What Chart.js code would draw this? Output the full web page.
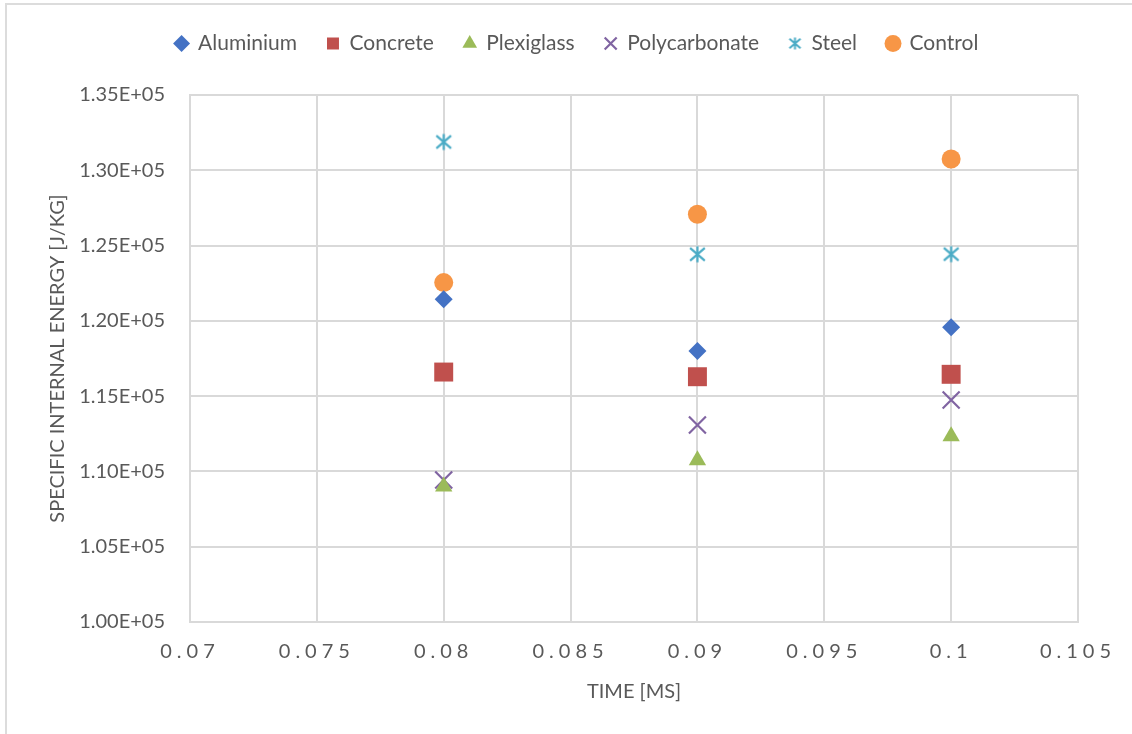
<!DOCTYPE html>
<html>
<head>
<meta charset="utf-8">
<script src="https://cdn.jsdelivr.net/npm/chart.js@4/dist/chart.umd.min.js"></script>
<style>
  html, body { margin: 0; padding: 0; background: #fff; }
  #frame { position: absolute; left: 5px; top: 3px; width: 1140px; height: 740px;
           border-left: 2px solid #dcdcdc; border-top: 2px solid #dcdcdc; }
  #wrap { position: absolute; left: 0; top: 0; width: 1132px; height: 734px; }
</style>
</head>
<body>
<div id="frame"></div>
<div id="wrap"><canvas id="chart"></canvas></div>
<script>
var times = [0.08, 0.09, 0.1];
var aluminium = [121430, 118000, 119570];
var concrete = [116600, 116290, 116450];
var plexiglass = [109000, 110740, 112330];
var polycarbonate = [109430, 113080, 114740];
var steel = [131880, 124420, 124430];
var control = [122540, 127080, 130750];

var xTicks = [0.07, 0.075, 0.08, 0.085, 0.09, 0.095, 0.1, 0.105];
var yTicks = ["1.00E+05", "1.05E+05", "1.10E+05", "1.15E+05", "1.20E+05", "1.25E+05", "1.30E+05", "1.35E+05"];

var textColor = "#595959";
var gridColor = "#d9d9d9";

// asterisk marker like the spreadsheet "star"
function makeStar(size, color, lw) {
    var c = document.createElement("canvas");
    c.width = size; c.height = size;
    var g = c.getContext("2d");
    var h = size / 2, r = size / 2 - 1.5;
    g.strokeStyle = color;
    g.lineWidth = lw;
    g.lineCap = "butt";
    g.beginPath();
    g.moveTo(h, h - r); g.lineTo(h, h + r);
    g.moveTo(h - r * 0.92, h - r * 0.8); g.lineTo(h + r * 0.92, h + r * 0.8);
    g.moveTo(h - r * 0.92, h + r * 0.8); g.lineTo(h + r * 0.92, h - r * 0.8);
    g.stroke();
    return c;
}
var starBig = makeStar(19, "#4BACC6", 2.2);
var starSmall = makeStar(15, "#4BACC6", 2);

function pts(vals) {
    return vals.map(function(v, i) { return { x: times[i], y: v }; });
}

var datasets = [
    { label: "Aluminium", data: pts(aluminium), pointStyle: "rectRot", pointRadius: 9, backgroundColor: "#4472C4", borderColor: "#4472C4", borderWidth: 0 },
    { label: "Concrete", data: pts(concrete), pointStyle: "rect", pointRadius: 13.4, backgroundColor: "#C0504D", borderColor: "#C0504D", borderWidth: 0 },
    { label: "Plexiglass", data: pts(plexiglass), pointStyle: "triangle", pointRadius: 10, backgroundColor: "#9BBB59", borderColor: "#9BBB59", borderWidth: 0 },
    { label: "Polycarbonate", data: pts(polycarbonate), pointStyle: "crossRot", pointRadius: 12, backgroundColor: "#8064A2", borderColor: "#8064A2", borderWidth: 2.2 },
    { label: "Steel", data: pts(steel), pointStyle: starBig, pointRadius: 10, backgroundColor: "#4BACC6", borderColor: "#4BACC6", borderWidth: 0 },
    { label: "Control", data: pts(control), pointStyle: "circle", pointRadius: 9.5, backgroundColor: "#F79646", borderColor: "#F79646", borderWidth: 0 }
];

var layoutFix = {
    id: "layoutFix",
    afterInit: function(chart) {
        var lg = chart.legend;
        var origFit = lg.fit;
        lg.fit = function() {
            origFit.call(this);
            this.height = 92;
        };
    },
    afterLayout: function(chart) {
        chart.legend.left += 38;
        chart.legend.right += 38;
        var xs = chart.scales.x;
        if (!xs._spaced) {
            var orig = xs.drawLabels;
            xs.drawLabels = function(area) {
                var ctx = this.ctx;
                ctx.save();
                ctx.letterSpacing = "5px";
                orig.call(this, area);
                ctx.restore();
            };
            xs._spaced = true;
        }
    }
};

new Chart(document.getElementById("chart"), {
    type: "scatter",
    data: { datasets: datasets },
    options: {
        responsive: true,
        maintainAspectRatio: false,
        animation: false,
        layout: { padding: { top: 3, left: 0, right: 54, bottom: 0 } },
        plugins: {
            tooltip: { enabled: false },
            legend: {
                position: "top",
                labels: {
                    usePointStyle: true,
                    boxWidth: 12,
                    boxHeight: 12,
                    padding: 30,
                    color: textColor,
                    font: { family: "Lato", size: 21 },
                    generateLabels: function(chart) {
                        var items = Chart.defaults.plugins.legend.labels.generateLabels(chart);
                        items.forEach(function(it) {
                            if (it.text === "Steel") it.pointStyle = starSmall;
                        });
                        return items;
                    }
                }
            }
        },
        scales: {
            x: {
                type: "linear",
                min: 0.07,
                max: 0.105,
                afterBuildTicks: function(scale) {
                    scale.ticks = xTicks.map(function(v) { return { value: v }; });
                },
                afterFit: function(scale) { scale.height = 112; },
                grid: { color: gridColor, lineWidth: 2, drawTicks: false },
                border: { color: gridColor, width: 2 },
                ticks: {
                    color: textColor,
                    padding: 18,
                    font: { family: "Lato", size: 20 },
                    callback: function(v) { return String(Math.round(v * 1000) / 1000); }
                },
                title: {
                    display: true,
                    text: "TIME [MS]",
                    color: textColor,
                    font: { family: "Lato", size: 20 },
                    padding: { top: 0, bottom: 30 }
                }
            },
            y: {
                type: "linear",
                min: 100000,
                max: 135000,
                afterBuildTicks: function(scale) {
                    scale.ticks = yTicks.map(function(s) { return { value: parseFloat(s) }; });
                },
                afterFit: function(scale) { scale.width = 190; },
                grid: { color: gridColor, lineWidth: 2, drawTicks: false },
                border: { color: gridColor, width: 2 },
                ticks: {
                    color: textColor,
                    padding: 25,
                    font: { family: "Lato", size: 20 },
                    callback: function(v) { return v.toExponential(2).toUpperCase().replace("E+", "E+0"); }
                },
                title: {
                    display: true,
                    text: "SPECIFIC INTERNAL ENERGY [J/KG]",
                    color: textColor,
                    font: { family: "Lato", size: 20 },
                    padding: { top: 46, bottom: 0 }
                }
            }
        }
    },
    plugins: [layoutFix]
});
</script>
</body>
</html>
